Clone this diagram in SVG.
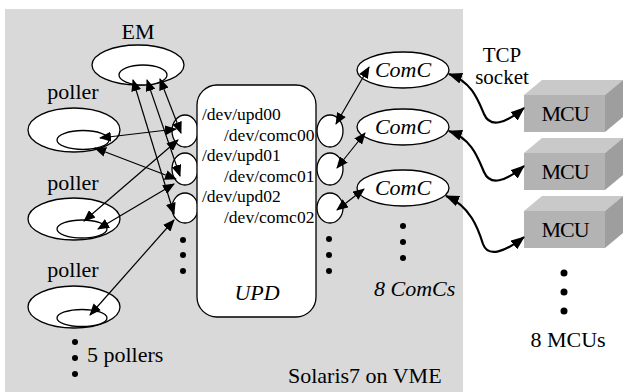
<svg xmlns="http://www.w3.org/2000/svg" width="623" height="392" viewBox="0 0 623 392" font-family="Liberation Serif, Times New Roman, Tinos, DejaVu Serif, serif">
  <defs>
    <marker id="ah" viewBox="0 0 12 10" refX="11" refY="5" markerWidth="12" markerHeight="10" markerUnits="userSpaceOnUse" orient="auto-start-reverse">
      <path d="M0,0 L12,5 L0,10 z" fill="#000"/>
    </marker>
    <marker id="ahb" viewBox="0 0 14 11" refX="13" refY="5.5" markerWidth="14" markerHeight="11" markerUnits="userSpaceOnUse" orient="auto-start-reverse">
      <path d="M0,0 L14,5.5 L0,11 z" fill="#000"/>
    </marker>
  </defs>

  <!-- host machine area -->
  <rect x="5" y="9" width="458" height="383" fill="#d9d9d9"/>
  <text x="288" y="383" font-size="22">Solaris7 on VME</text>

  <!-- event manager -->
  <g id="em" fill="#fff" stroke="#000" stroke-width="1.3">
    <ellipse cx="138" cy="65" rx="46" ry="20"/>
    <ellipse cx="143" cy="75" rx="24" ry="10"/>
    <text x="138" y="39" text-anchor="middle" fill="#000" stroke="none" font-size="22">EM</text>
  </g>

  <!-- pollers -->
  <g id="poller1" fill="#fff" stroke="#000" stroke-width="1.3">
    <ellipse cx="74" cy="130" rx="46" ry="22"/>
    <ellipse cx="83" cy="140" rx="26" ry="9.5"/>
    <text x="73" y="99" text-anchor="middle" fill="#000" stroke="none" font-size="22">poller</text>
  </g>
  <g id="poller2" fill="#fff" stroke="#000" stroke-width="1.3">
    <ellipse cx="74" cy="219" rx="46" ry="21"/>
    <ellipse cx="82" cy="229" rx="25" ry="9"/>
    <text x="73" y="190" text-anchor="middle" fill="#000" stroke="none" font-size="22">poller</text>
  </g>
  <g id="poller3" fill="#fff" stroke="#000" stroke-width="1.3">
    <ellipse cx="74" cy="307" rx="46" ry="21"/>
    <ellipse cx="82" cy="318" rx="25" ry="8.5"/>
    <text x="73" y="277" text-anchor="middle" fill="#000" stroke="none" font-size="22">poller</text>
  </g>
  <g id="more-pollers" fill="#000">
    <circle cx="75" cy="342" r="3"/>
    <circle cx="75" cy="358" r="3"/>
    <circle cx="75" cy="374" r="3"/>
    <text x="87" y="362" font-size="22">5 pollers</text>
  </g>

  <!-- UPD driver with its device ports -->
  <g id="upd">
    <g fill="#fff" stroke="#000" stroke-width="1.3">
      <ellipse cx="185" cy="131" rx="13" ry="16"/>
      <ellipse cx="185" cy="169" rx="13" ry="16"/>
      <ellipse cx="185" cy="208" rx="13" ry="15"/>
      <ellipse cx="330" cy="131" rx="13" ry="16"/>
      <ellipse cx="330" cy="169" rx="13" ry="16"/>
      <ellipse cx="330" cy="208" rx="13" ry="15"/>
      <rect x="197" y="85" width="119" height="232" rx="20" ry="20"/>
    </g>
    <g fill="#000" font-size="17.5">
      <text x="202" y="120">/dev/upd00</text>
      <text x="224" y="141">/dev/comc00</text>
      <text x="202" y="161">/dev/upd01</text>
      <text x="224" y="182">/dev/comc01</text>
      <text x="202" y="202">/dev/upd02</text>
      <text x="224" y="223">/dev/comc02</text>
    </g>
    <text x="257" y="300" text-anchor="middle" font-size="22" font-style="italic">UPD</text>
    <g fill="#000">
      <circle cx="183" cy="240" r="3"/>
      <circle cx="183" cy="255" r="3"/>
      <circle cx="183" cy="271" r="3"/>
      <circle cx="329" cy="239" r="3"/>
      <circle cx="329" cy="255" r="3"/>
      <circle cx="329" cy="271" r="3"/>
    </g>
  </g>

  <!-- communication controllers -->
  <g id="comc1">
    <ellipse cx="403" cy="70" rx="46" ry="18" fill="#fff" stroke="#000" stroke-width="1.3"/>
    <text x="403" y="77" text-anchor="middle" font-size="22" font-style="italic">ComC</text>
  </g>
  <g id="comc2">
    <ellipse cx="403" cy="127" rx="46" ry="18" fill="#fff" stroke="#000" stroke-width="1.3"/>
    <text x="403" y="134" text-anchor="middle" font-size="22" font-style="italic">ComC</text>
  </g>
  <g id="comc3">
    <ellipse cx="403" cy="188" rx="46" ry="18" fill="#fff" stroke="#000" stroke-width="1.3"/>
    <text x="403" y="195" text-anchor="middle" font-size="22" font-style="italic">ComC</text>
  </g>
  <g id="more-comcs" fill="#000">
    <circle cx="403" cy="226" r="3"/>
    <circle cx="403" cy="242" r="3"/>
    <circle cx="403" cy="258" r="3"/>
    <text x="374" y="296" font-size="22" font-style="italic">8 ComCs</text>
  </g>

  <!-- MCU units -->
  <g id="mcu1">
    <polygon points="524,95 542,80 623,80 605,95" fill="#c9c9c9"/>
    <polygon points="605,95 623,80 623,117 605,132" fill="#9e9e9e"/>
    <rect x="524" y="95" width="81" height="37" fill="#b3b3b3"/>
    <text x="565" y="121" text-anchor="middle" font-size="22" letter-spacing="-1">MCU</text>
  </g>
  <g id="mcu2">
    <polygon points="524,153 542,138 623,138 605,153" fill="#c9c9c9"/>
    <polygon points="605,153 623,138 623,175 605,190" fill="#9e9e9e"/>
    <rect x="524" y="153" width="81" height="37" fill="#b3b3b3"/>
    <text x="565" y="179" text-anchor="middle" font-size="22" letter-spacing="-1">MCU</text>
  </g>
  <g id="mcu3">
    <polygon points="524,211 542,196 623,196 605,211" fill="#c9c9c9"/>
    <polygon points="605,211 623,196 623,233 605,248" fill="#9e9e9e"/>
    <rect x="524" y="211" width="81" height="37" fill="#b3b3b3"/>
    <text x="565" y="237" text-anchor="middle" font-size="22" letter-spacing="-1">MCU</text>
  </g>
  <g id="more-mcus" fill="#000">
    <circle cx="564" cy="273" r="3.5"/>
    <circle cx="564" cy="292" r="3.5"/>
    <circle cx="564" cy="311" r="3.5"/>
    <text x="568" y="347" text-anchor="middle" font-size="22">8 MCUs</text>
  </g>

  <g id="tcp-label">
    <text x="502" y="62" text-anchor="middle" font-size="21">TCP</text>
    <text x="502" y="84" text-anchor="middle" font-size="21">socket</text>
  </g>

  <!-- connectors -->
  <g id="connectors" fill="none" stroke="#000">
    <g stroke-width="1.2" marker-start="url(#ah)" marker-end="url(#ah)">
      <line x1="160" y1="79" x2="181" y2="133"/>
      <line x1="147" y1="80" x2="180" y2="176"/>
      <line x1="133" y1="80" x2="174" y2="214"/>
      <line x1="100" y1="138" x2="176" y2="129"/>
      <line x1="95" y1="148" x2="176" y2="179"/>
      <line x1="84" y1="221" x2="178" y2="140"/>
      <line x1="98" y1="229" x2="174" y2="184"/>
      <line x1="90" y1="315" x2="174" y2="220"/>
      <line x1="336" y1="124" x2="369" y2="67"/>
      <line x1="337" y1="168" x2="365" y2="133"/>
      <line x1="337" y1="210" x2="364" y2="189"/>
    </g>
    <g stroke-width="2.2" marker-start="url(#ahb)" marker-end="url(#ahb)">
      <path d="M449,74 C472,82 478,100 484,114 C490,128 505,124 524,108"/>
      <path d="M449,131 C472,139 478,158 484,172 C490,186 505,182 524,166"/>
      <path d="M446,196 C470,206 478,228 483,244 C488,258 505,252 524,237"/>
    </g>
  </g>
</svg>
